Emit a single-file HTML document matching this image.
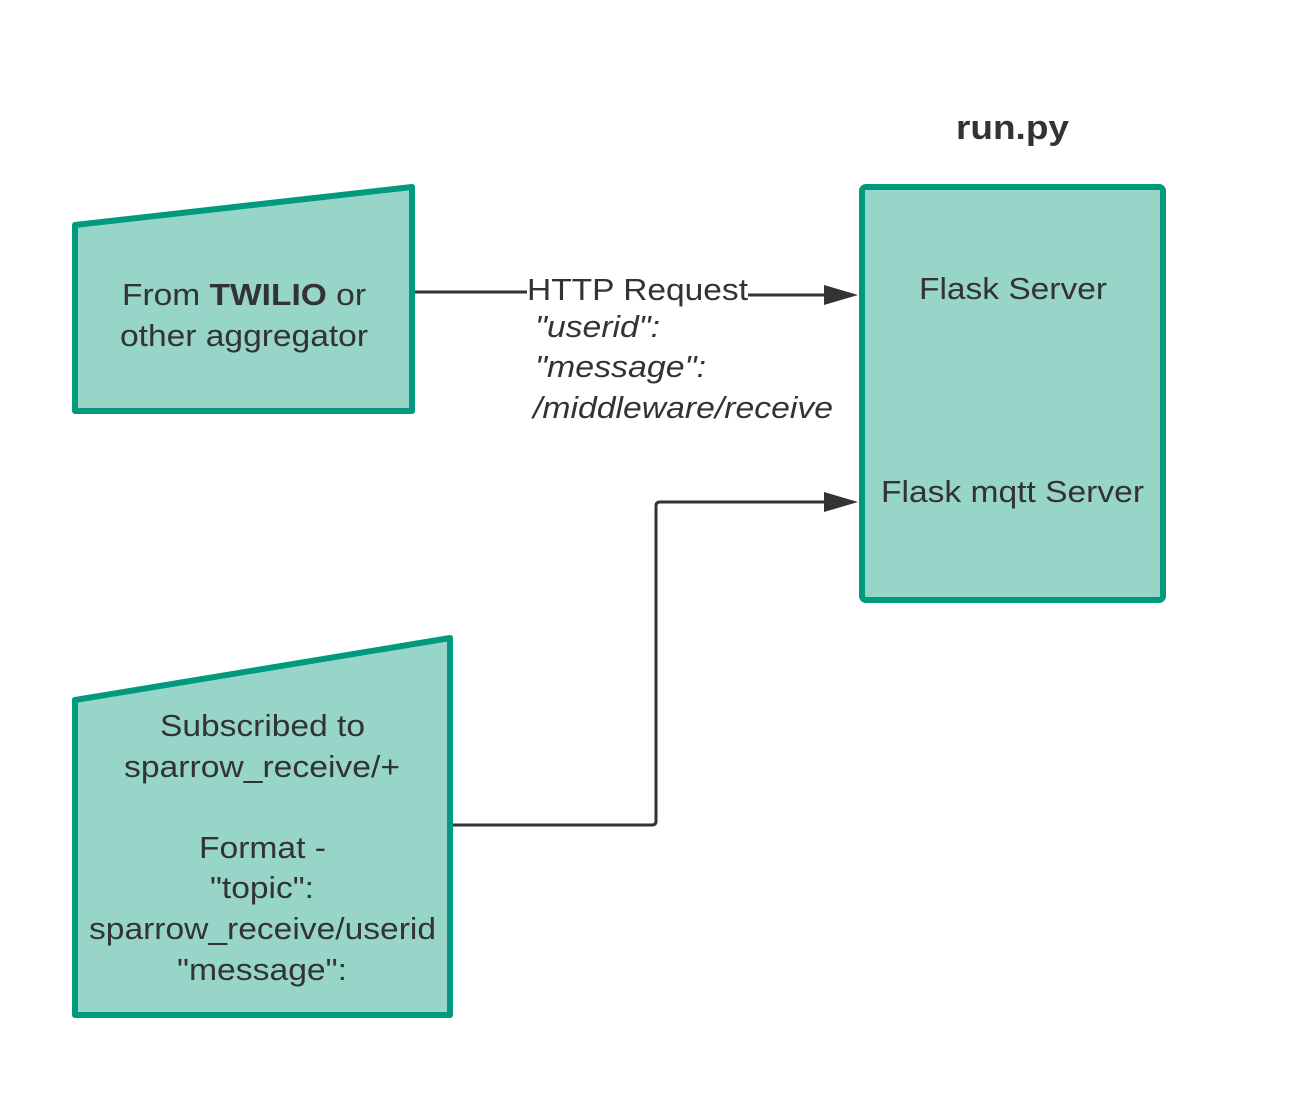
<!DOCTYPE html>
<html><head><style>
html,body{margin:0;padding:0;background:#fff;}
svg text{font-family:"Liberation Sans",Arial,sans-serif;fill:#333;}
</style></head><body>
<svg width="1313" height="1089" viewBox="0 0 1313 1089" xmlns="http://www.w3.org/2000/svg">
<g fill="#97d5c9" stroke="#009a7e" stroke-width="6" stroke-linejoin="round">
<path d="M75,225 L412,187 L412,411 L75,411 Z"/>
<path d="M75,700 L450,638 L450,1015 L75,1015 Z"/>
<rect x="862" y="187" width="301" height="413" rx="4"/>
</g>
<g stroke="#333" stroke-width="3" fill="none">
<line x1="415" y1="292" x2="527" y2="292"/>
<line x1="748" y1="295" x2="826" y2="295"/>
<path d="M453,825 L652,825 Q656,825 656,821 L656,506 Q656,502 660,502 L826,502"/>
</g>
<g fill="#333">
<polygon points="824,285 858,295 824,305"/>
<polygon points="824,492 858,502 824,512"/>
</g>
<g lengthAdjust="spacingAndGlyphs">
<text x="956" y="139" font-size="34" font-weight="bold" textLength="113" lengthAdjust="spacingAndGlyphs">run.py</text>
<text x="122" y="305" font-size="31" textLength="244" lengthAdjust="spacingAndGlyphs">From <tspan font-weight="bold">TWILIO</tspan> or</text>
<text x="120" y="346" font-size="31" textLength="248" lengthAdjust="spacingAndGlyphs">other aggregator</text>
<text x="527" y="300" font-size="31" textLength="221" lengthAdjust="spacingAndGlyphs">HTTP Request</text>
<g font-size="31" font-style="italic">
<text x="535" y="337" textLength="125" lengthAdjust="spacingAndGlyphs">"userid":</text>
<text x="535" y="377" textLength="171" lengthAdjust="spacingAndGlyphs">"message":</text>
<text x="533" y="418" textLength="300" lengthAdjust="spacingAndGlyphs">/middleware/receive</text>
</g>
<text x="919" y="299" font-size="31" textLength="188" lengthAdjust="spacingAndGlyphs">Flask Server</text>
<text x="881" y="502" font-size="31" textLength="263" lengthAdjust="spacingAndGlyphs">Flask mqtt Server</text>
<g font-size="31">
<text x="160" y="736" textLength="205" lengthAdjust="spacingAndGlyphs">Subscribed to</text>
<text x="124" y="777" textLength="276" lengthAdjust="spacingAndGlyphs">sparrow_receive/+</text>
<text x="199" y="858" textLength="127" lengthAdjust="spacingAndGlyphs">Format -</text>
<text x="210" y="898" textLength="104" lengthAdjust="spacingAndGlyphs">"topic":</text>
<text x="89" y="939" textLength="347" lengthAdjust="spacingAndGlyphs">sparrow_receive/userid</text>
<text x="177" y="980" textLength="170" lengthAdjust="spacingAndGlyphs">"message":</text>
</g>
</g>
</svg>
</body></html>
